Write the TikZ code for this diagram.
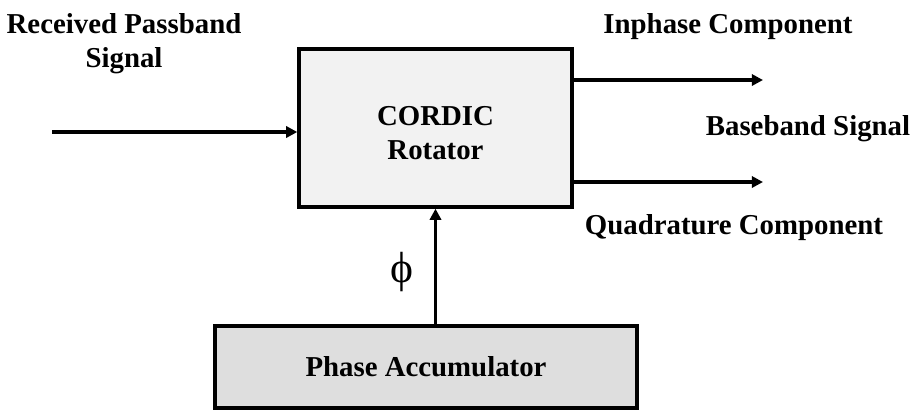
\documentclass[tikz,border=0pt]{standalone}
\usepackage{fontspec}
\setmainfont{Liberation Serif}
\usetikzlibrary{arrows.meta}
\tikzset{
  cd block/.style={
    draw=black,line width=2.4pt,inner sep=0pt,align=center,
    font=\fontsize{20.5}{24.8}\selectfont\bfseries
  },
  cd label/.style={
    inner sep=0pt,align=center,font=\fontsize{20.5}{24.1}\selectfont\bfseries
  },
  cd arrow/.style={
    line width=2.4pt,-{Triangle[length=0.28cm,width=0.28cm]}
  }
}

\begin{document}
\begin{tikzpicture}[x=0.025cm,y=-0.025cm]
  \useasboundingbox (0,0) rectangle (914,410);
  \node[cd block,fill=black!5,minimum width=273*0.025cm,
    minimum height=158*0.025cm] (cordic) at (435.5,128) {};
  \node[cd label] (cordictxt) at (435.5,133) {CORDIC\\Rotator};
  \node[cd block,fill=black!13,minimum width=422*0.025cm,
    minimum height=82*0.025cm] (phacc) at (426,367) {Phase Accumulator};

  \node[cd label] (rxlbl) at (124,44) {Received Passband\\Signal};
  \node[cd label] (ilbl) at (728,27) {Inphase Component};
  \node[cd label] (bblbl) at (808,129) {Baseband Signal};
  \node[cd label] (qlbl) at (734,228) {Quadrature Component};
  \node[inner sep=0pt,font=\fontsize{31}{34}\selectfont] (philbl) at (402,272)
    {\char"03D5};

  \coordinate (rxin) at (52,132);
  \coordinate (iout) at (763,80);
  \coordinate (qout) at (763,182);
  \draw[cd arrow] (rxin) -- (rxin -| cordic.west);
  \draw[cd arrow] (iout -| cordic.east) -- (iout);
  \draw[cd arrow] (qout -| cordic.east) -- (qout);
  \draw[cd arrow] (cordic.south |- phacc.north) -- (cordic.south);
\end{tikzpicture}
\end{document}
